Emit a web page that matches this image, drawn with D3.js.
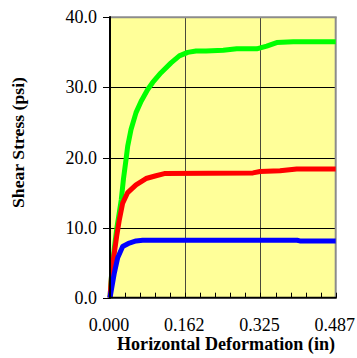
<!DOCTYPE html>
<html>
<head>
<meta charset="utf-8">
<script src="https://cdn.jsdelivr.net/npm/d3@7/dist/d3.min.js"></script>
<style>
html,body{margin:0;padding:0;background:#fff;}
svg{display:block;}
svg text{font-family:"Liberation Serif","Tinos","Times New Roman",serif;}
</style>
</head>
<body>
<script>
// ---- data ----
const greenX = [0, 0.0043, 0.0093, 0.0145, 0.0188, 0.0244, 0.0292, 0.0346, 0.0382, 0.0454, 0.0562, 0.0670, 0.0814, 0.0922, 0.1102, 0.1318, 0.1497, 0.1678, 0.1858, 0.2074, 0.2447, 0.2737, 0.3169, 0.3385, 0.3601, 0.3959, 0.4875];
const greenY = [0, 4.2, 7.0, 9.8, 11.6, 14.0, 17.0, 19.7, 21.6, 24.0, 26.4, 28.0, 29.7, 30.7, 32.1, 33.5, 34.5, 35.0, 35.2, 35.2, 35.3, 35.5, 35.5, 35.9, 36.4, 36.5, 36.5];
const redX = [0, 0.0043, 0.0093, 0.0145, 0.0201, 0.0274, 0.0382, 0.0562, 0.0778, 0.0994, 0.1173, 0.3089, 0.3240, 0.3672, 0.4033, 0.4875];
const redY = [0, 4.0, 6.4, 8.8, 11.1, 13.5, 15.0, 16.1, 17.0, 17.4, 17.7, 17.8, 18.0, 18.1, 18.35, 18.35];
const blueX = [0, 0.0093, 0.0166, 0.0274, 0.0417, 0.0562, 0.0706, 0.404, 0.41, 0.4875];
const blueY = [0, 3.5, 5.7, 7.3, 7.8, 8.1, 8.2, 8.2, 8.1, 8.1];
const xTickValues = [0, 0.1625, 0.325, 0.4875];
const xTickLabels = ["0.000", "0.162", "0.325", "0.487"];
const yTickValues = [0, 10, 20, 30, 40];
const yTickLabels = ["0.0", "10.0", "20.0", "30.0", "40.0"];
const xTitle = "Horizontal Deformation (in)";
const yTitle = "Shear Stress (psi)";

// ---- layout ----
const W = 357, H = 358;
const L = 110, R = 335.7, T = 17.3, B = 297.7;
const FONT = '"Liberation Serif"';

const svg = d3.select("body").append("svg").attr("width", W).attr("height", H);

const x = d3.scaleLinear().domain([0, 0.4875]).range([L, R]);
const y = d3.scaleLinear().domain([0, 40]).range([B, T]);

// plot background
svg.append("rect").attr("x", L).attr("y", T).attr("width", R - L).attr("height", B - T).attr("fill", "#FFFF99");

// vertical gridlines
svg.append("g").selectAll("line").data(xTickValues.slice(1, 3)).join("line")
  .attr("x1", d => Math.round(x(d)) + 0.5).attr("x2", d => Math.round(x(d)) + 0.5)
  .attr("y1", T).attr("y2", B).attr("stroke", "#4a4a3a").attr("stroke-width", 1);

// horizontal gridlines (with tick stubs left of axis)
svg.append("g").selectAll("line").data(yTickValues).join("line")
  .attr("x1", L - 7).attr("x2", d => (d === 0 || d === 40) ? L : R)
  .attr("y1", d => Math.round(y(d)) + 0.5).attr("y2", d => Math.round(y(d)) + 0.5)
  .attr("stroke", "#000").attr("stroke-width", 1);

// frame: top/right gray
svg.append("line").attr("x1", L).attr("x2", R + 1).attr("y1", T).attr("y2", T).attr("stroke", "#8c8c8c").attr("stroke-width", 2);
svg.append("line").attr("x1", R).attr("x2", R).attr("y1", T).attr("y2", B).attr("stroke", "#8c8c8c").attr("stroke-width", 2);

// lines
const line = d3.line().x(d => x(d[0])).y(d => y(d[1]));
const series = [
  {xs: greenX, ys: greenY, color: "#00FF00"},
  {xs: redX, ys: redY, color: "#FF0000"},
  {xs: blueX, ys: blueY, color: "#0000FF"}
];
svg.append("g").selectAll("path").data(series).join("path")
  .attr("d", s => line(s.xs.map((v, i) => [v, s.ys[i]])))
  .attr("fill", "none").attr("stroke", s => s.color).attr("stroke-width", 5)
  .attr("stroke-linejoin", "round").attr("stroke-linecap", "butt");

// x axis: major + minor ticks pointing inward
const minor = d3.range(0, 16).map(i => i * 0.4875 / 15);
svg.append("g").selectAll("line").data(minor).join("line")
  .attr("x1", d => Math.round(x(d)) + 0.5).attr("x2", d => Math.round(x(d)) + 0.5)
  .attr("y1", B).attr("y2", B - 5).attr("stroke", "#000").attr("stroke-width", 1);

// axes lines
svg.append("line").attr("x1", L).attr("x2", R + 1).attr("y1", B).attr("y2", B).attr("stroke", "#000").attr("stroke-width", 2);
svg.append("line").attr("x1", L).attr("x2", L).attr("y1", T - 1).attr("y2", B + 1).attr("stroke", "#000").attr("stroke-width", 2);

// tick labels
svg.append("g").selectAll("text").data(yTickValues).join("text")
  .attr("x", 97).attr("y", d => y(d) + 6).attr("text-anchor", "end")
  .style("font-family", FONT).attr("font-size", 18).attr("fill", "#000")
  .text((d, i) => yTickLabels[i]);
svg.append("g").selectAll("text").data(xTickValues).join("text")
  .attr("x", d => x(d) - 1).attr("y", 331).attr("text-anchor", "middle")
  .style("font-family", FONT).attr("font-size", 18).attr("fill", "#000")
  .text((d, i) => xTickLabels[i]);

// titles
svg.append("text").attr("x", 226).attr("y", 350).attr("text-anchor", "middle")
  .style("font-family", FONT).attr("font-size", 18).attr("font-weight", "bold")
  .attr("textLength", 218).attr("lengthAdjust", "spacingAndGlyphs")
  .text(xTitle);
svg.append("text").attr("transform", "translate(24,142.5) rotate(-90)").attr("text-anchor", "middle")
  .style("font-family", FONT).attr("font-size", 17).attr("font-weight", "bold")
  .attr("textLength", 131).attr("lengthAdjust", "spacingAndGlyphs")
  .text(yTitle);
</script>
</body>
</html>
